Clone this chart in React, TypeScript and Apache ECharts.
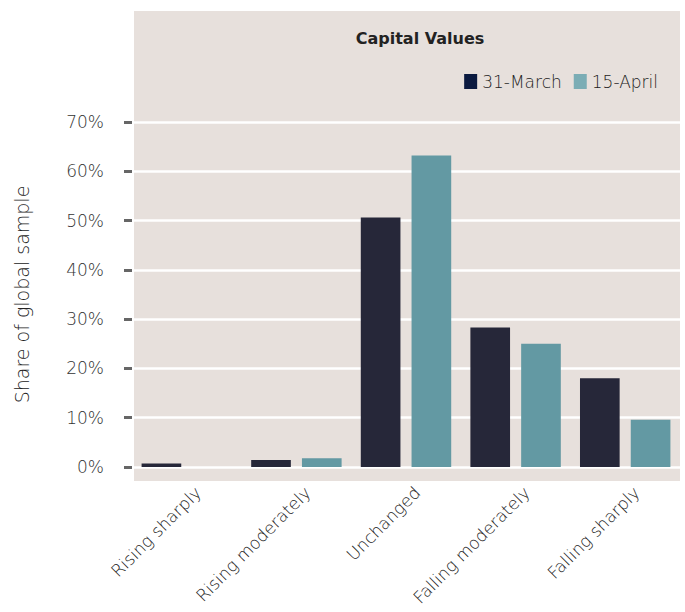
import React, { useEffect, useRef } from "react";
import * as echarts from "echarts";

const categories = ["Rising sharply", "Rising moderately", "Unchanged", "Falling moderately", "Falling sharply"];
const march31 = [0.7, 1.4, 50.6, 28.3, 18.0];
const april15 = [0, 1.8, 63.2, 25.0, 9.6];
const seriesNames = ["31-March", "15-April"];
const yTicks = [0, 10, 20, 30, 40, 50, 60, 70];

const FONT = "'DejaVu Sans', 'Open Sans', sans-serif";

export default function App() {
  const ref = useRef<HTMLDivElement>(null);
  useEffect(() => {
    document.body.style.margin = "0";
    if (!ref.current) return;
    const chart = echarts.init(ref.current, undefined, { renderer: "svg" });
    chart.setOption({
      animation: false,
      backgroundColor: "#ffffff",
      graphic: [
        {
          type: "rect",
          z: -10,
          silent: true,
          shape: { x: 134, y: 11, width: 546, height: 470 },
          style: { fill: "#e7e0dc" },
        },
      ],
      title: {
        text: "Capital Values",
        left: 415,
        top: 25,
        textAlign: "center",
        textStyle: { fontFamily: FONT, fontSize: 16, fontWeight: "bold", color: "#222222" },
      },
      legend: {
        right: 22,
        top: 68,
        itemWidth: 13,
        itemHeight: 15,
        itemGap: 12,
        icon: "rect",
        textStyle: { fontFamily: FONT, fontSize: 17, fontWeight: 200, color: "#222222" },
        data: [
          { name: seriesNames[0], itemStyle: { color: "#0b1a40" } },
          { name: seriesNames[1], itemStyle: { color: "#7badb5" } },
        ],
      },
      grid: { left: 132, right: 5, top: 122, bottom: 145, outerBoundsMode: "none", containLabel: false },
      xAxis: {
        type: "category",
        data: categories,
        axisLine: { show: false },
        axisTick: { show: false },
        axisLabel: {
          rotate: 45,
          interval: 0,
          margin: 34,
          padding: [0, -16, 0, 0],
          fontFamily: FONT,
          fontSize: 17,
          fontWeight: 200,
          color: "#222222",
        },
      },
      yAxis: {
        type: "value",
        min: 0,
        max: 70,
        interval: 10,
        name: "Share of global sample",
        nameLocation: "middle",
        nameGap: 101,
        nameTextStyle: { fontFamily: FONT, fontSize: 19, fontWeight: 200, color: "#222222" },
        axisLine: { show: false },
        axisTick: { show: true, inside: false, length: 8, lineStyle: { color: "#666666", width: 3 } },
        axisLabel: {
          margin: 28,
          fontFamily: FONT,
          fontSize: 17,
          fontWeight: 200,
          color: "#333333",
          formatter: (v: number) => (yTicks.includes(v) ? v + "%" : ""),
        },
        splitLine: { show: true, lineStyle: { color: "#ffffff", width: 2.5 } },
      },
      series: [
        {
          name: seriesNames[0],
          type: "bar",
          data: march31,
          barGap: "28%",
          barCategoryGap: "17.5%",
          itemStyle: { color: "#262739" },
          z: 3,
        },
        {
          name: seriesNames[1],
          type: "bar",
          data: april15,
          itemStyle: { color: "#6399a3" },
          z: 3,
        },
      ],
    });
    return () => chart.dispose();
  }, []);
  return <div ref={ref} style={{ width: 685, height: 612 }} />;
}
